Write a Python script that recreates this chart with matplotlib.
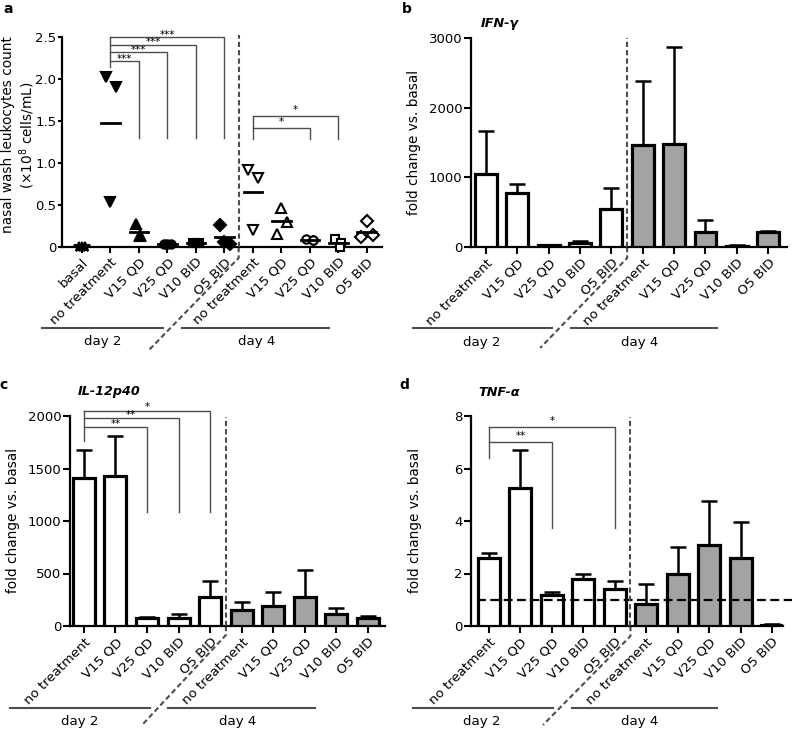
import matplotlib
matplotlib.use('Agg')
import matplotlib.pyplot as plt
import numpy as np

plt.rcParams['font.family'] = ['DejaVu Sans']
plt.rcParams['mathtext.fontset'] = 'dejavusans'

# ---------------- data ----------------
cats_a = ['basal', 'no treatment', 'V15 QD', 'V25 QD', 'V10 BID', 'O5 BID',
          'no treatment', 'V15 QD', 'V25 QD', 'V10 BID', 'O5 BID']
cats = cats_a[1:]

# panel a: individual animals (x10^8 cells/mL)
a_points = [[0.0, 0.0, 0.0],
            [2.02, 1.91, 0.54],
            [0.27, 0.13, 0.14],
            [0.03, 0.04, 0.04],
            [0.05, 0.05, 0.045],
            [0.26, 0.03, 0.055],
            [0.92, 0.82, 0.20],
            [0.16, 0.30, 0.47],
            [0.10, 0.08, 0.085],
            [0.10, 0.045, 0.0],
            [0.12, 0.14, 0.31]]
a_means = [0.0, 1.48, 0.18, 0.035, 0.05, 0.115, 0.65, 0.31, 0.085, 0.05, 0.18]
a_yticks = [0, 0.5, 1.0, 1.5, 2.0, 2.5]
a_yticklabels = ['0', '0.5', '1.0', '1.5', '2.0', '2.5']

# panel b: IFN-gamma
b_mean = [1050, 780, 30, 60, 540, 1460, 1480, 220, 20, 210]
b_upper = [1660, 900, 35, 85, 850, 2380, 2870, 390, 35, 225]
# panel c: IL-12p40
c_mean = [1410, 1430, 80, 80, 280, 150, 190, 280, 110, 75]
c_upper = [1680, 1810, 90, 110, 430, 230, 320, 530, 170, 100]
# panel d: TNF-alpha
d_mean = [2.6, 5.25, 1.2, 1.8, 1.4, 0.85, 2.0, 3.1, 2.6, 0.05]
d_upper = [2.8, 6.7, 1.3, 2.0, 1.7, 1.6, 3.0, 4.75, 3.95, 0.07]

# significance comparisons (from index, to index, bracket level, label)
a_sig = [(1, 2, 2.21, '***'), (1, 3, 2.32, '***'), (1, 4, 2.41, '***'), (1, 5, 2.50, '***')]
a_sig4 = [(6, 8, 1.42, '*'), (6, 9, 1.56, '*')]
c_sig = [(0, 2, 1895, '**'), (0, 3, 1980, '**'), (0, 4, 2050, '*')]
d_sig = [(0, 2, 7.0, '**'), (0, 4, 7.58, '*')]

# ---------------- style ----------------
a_markers = ['*', 'v', '^', 'o', 's', 'D', 'v', '^', 'o', 's', 'D']
a_filled = [True] * 6 + [False] * 5
a_offsets = [[-0.12, 0.12, 0.0],
             [-0.14, 0.18, 0.0],
             [-0.1, 0.05, 0.05],
             [-0.12, 0.12, 0.0],
             [-0.1, 0.12, 0.0],
             [-0.17, 0.19, 0.0],
             [-0.16, 0.19, 0.0],
             [-0.15, 0.18, 0.0],
             [-0.12, 0.1, 0.12],
             [-0.12, 0.1, 0.05],
             [-0.19, 0.2, 0.0]]
bar_colors = ['white'] * 5 + ['#a3a3a3'] * 5
GRAY = '#4d4d4d'
TICK_FS = 9.5
LAB_FS = 9.8
DAY_FS = 9.6

W, H = 792, 732
fig = plt.figure(figsize=(W / 100, H / 100), dpi=100)


def px_axes(x0, x1, ytop, ybot):
    return fig.add_axes([x0 / W, 1 - ybot / H, (x1 - x0) / W, (ybot - ytop) / H])


def style_axes(ax, xt, labels, ylen=5.0, xlen=5.0):
    for s in ['top', 'right']:
        ax.spines[s].set_visible(False)
    for s in ['left', 'bottom']:
        ax.spines[s].set_linewidth(1.6)
    ax.tick_params(axis='y', direction='out', length=ylen, width=1.5, labelsize=TICK_FS, pad=1)
    ax.tick_params(axis='x', direction='out', length=xlen, width=1.5, labelsize=TICK_FS, pad=2)
    ax.set_xticks(xt)
    ax.set_xticklabels(labels, rotation=45, ha='right', rotation_mode='anchor', fontsize=TICK_FS)


def deco(ax, xdash, ydiv_top, diag_end, diag_start_y, day2, day4, lines_y, labx, laby):
    ax.plot([xdash, xdash], [0, ydiv_top], ls=(0, (2.5, 1.5)), color=GRAY, lw=1.5, clip_on=False, zorder=5)
    tr = ax.transAxes
    x0, x1 = ax.get_xlim()
    xa = (xdash - x0) / (x1 - x0)
    ax.plot([xa, xa, diag_end[0]], [0, diag_start_y, diag_end[1]], transform=tr,
            ls=(0, (2.5, 1.5)), color=GRAY, lw=1.5, clip_on=False)
    ax.plot(day2, [lines_y, lines_y], transform=tr, color=GRAY, lw=1.5, clip_on=False)
    ax.plot(day4, [lines_y, lines_y], transform=tr, color=GRAY, lw=1.5, clip_on=False)
    ax.text(labx[0], laby, 'day 2', transform=tr, ha='center', va='center', fontsize=DAY_FS)
    ax.text(labx[1], laby, 'day 4', transform=tr, ha='center', va='center', fontsize=DAY_FS)


def brackets(ax, sig, drop, start_low, ystar_off):
    tops = {}
    for i, j, lev, lab in sig:
        tops[i] = max(tops.get(i, lev), lev)
        ax.plot([i, j, j], [lev, lev, drop], color=GRAY, lw=1.0, clip_on=False)
        ax.text((i + j) / 2, lev + ystar_off, lab, ha='center', va='bottom', fontsize=7.5, clip_on=False)
    for i, top in tops.items():
        ax.plot([i, i], [start_low, top], color=GRAY, lw=1.0, clip_on=False)


# ---------------- panel a ----------------
axa = px_axes(62, 382, 37, 247)
xa_ = np.arange(len(cats_a))
axa.set_xlim(-0.7, 10.53)
axa.set_ylim(0, 2.5)
style_axes(axa, xa_, cats_a, ylen=3.0, xlen=4.3)
axa.set_yticks(a_yticks)
axa.set_yticklabels(a_yticklabels)
for k in range(len(cats_a)):
    xs = xa_[k] + np.array(a_offsets[k])
    fc = 'black' if a_filled[k] else 'white'
    axa.plot(xs, a_points[k], ls='none', marker=a_markers[k], ms=7 if a_markers[k] in 'v^*' else 6,
             mfc=fc, mec='black', mew=1.5, clip_on=False, zorder=4)
    if k > 0:
        axa.plot([xa_[k] - 0.33, xa_[k] + 0.33], [a_means[k], a_means[k]], color='black', lw=2, zorder=5,
                 clip_on=False)
brackets(axa, a_sig, 1.30, 2.14, -0.03)
brackets(axa, a_sig4, 1.29, 1.29, 0.01)
deco(axa, 5.5, 2.52, (0.269, -0.495), -0.052, [-0.0625, 0.316], [0.375, 0.834], -0.386,
     [0.128, 0.609], -0.452)


# ---------------- bar panels ----------------
def bar_panel(ax, mean, upper, xlim, ylim, yt):
    x = np.arange(len(cats))
    ax.set_xlim(*xlim)
    ax.set_ylim(*ylim)
    err = np.array(upper) - np.array(mean)
    ax.errorbar(x, mean, yerr=[np.zeros_like(err), err], fmt='none', ecolor='black',
                elinewidth=1.8, capsize=5.5, capthick=1.8, zorder=2)
    ax.bar(x, mean, width=0.7, color=bar_colors, edgecolor='black', linewidth=2.3, zorder=3)
    style_axes(ax, x, cats)
    ax.set_yticks(yt)
    return x


axb = px_axes(471, 787, 38, 247)
bar_panel(axb, b_mean, b_upper, (-0.48, 9.6), (0, 3000), [0, 1000, 2000, 3000])
deco(axb, 4.5, 3000, (0.219, -0.483), -0.053, [-0.184, 0.256], [0.316, 0.778], -0.388,
     [0.035, 0.535], -0.455)

axc = px_axes(70, 385, 416, 626)
bar_panel(axc, c_mean, c_upper, (-0.44, 9.54), (0, 2000), [0, 500, 1000, 1500, 2000])
brackets(axc, c_sig, 1085, 1760, -15)
deco(axc, 4.5, 1990, (0.229, -0.471), -0.043, [-0.19, 0.254], [0.311, 0.778], -0.39,
     [0.032, 0.533], -0.457)

axd = px_axes(471, 783, 416, 626)
bar_panel(axd, d_mean, d_upper, (-0.57, 9.35), (0, 8), [0, 2, 4, 6, 8])
brackets(axd, d_sig, 3.73, 6.4, 0.05)
axd.plot([0.02, 1.03], [1, 1], transform=axd.get_yaxis_transform(), ls=(0, (4, 2)),
         color='black', lw=1.6, clip_on=False, zorder=4)
deco(axd, 4.5, 7.95, (0.231, -0.471), -0.048, [-0.186, 0.263], [0.324, 0.789], -0.39,
     [0.035, 0.542], -0.457)

# ---------------- labels ----------------
fig.text(19 / W, 1 - 135 / H, 'nasal wash leukocytes count\n(×10$^{8}$ cells/mL)', rotation=90,
         ha='center', va='center', multialignment='center', linespacing=1.1, fontsize=LAB_FS)
fig.text(414 / W, 1 - 142 / H, 'fold change vs. basal', rotation=90, ha='center', va='center', fontsize=LAB_FS)
fig.text(13 / W, 1 - 520 / H, 'fold change vs. basal', rotation=90, ha='center', va='center', fontsize=LAB_FS)
fig.text(415 / W, 1 - 520 / H, 'fold change vs. basal', rotation=90, ha='center', va='center', fontsize=LAB_FS)

for t, x, y in [('a', 8, 9), ('b', 407, 9), ('c', 4, 385), ('d', 404, 385)]:
    fig.text(x / W, 1 - y / H, t, fontsize=10, fontweight='bold', ha='center', va='center')
for t, x, y in [('IFN-γ', 500, 23), ('IL-12p40', 109, 391), ('TNF-α', 499, 393)]:
    fig.text(x / W, 1 - y / H, t, fontsize=9.2, fontweight='bold', fontstyle='italic',
             ha='center', va='center')

fig.savefig('out.png', dpi=100)
